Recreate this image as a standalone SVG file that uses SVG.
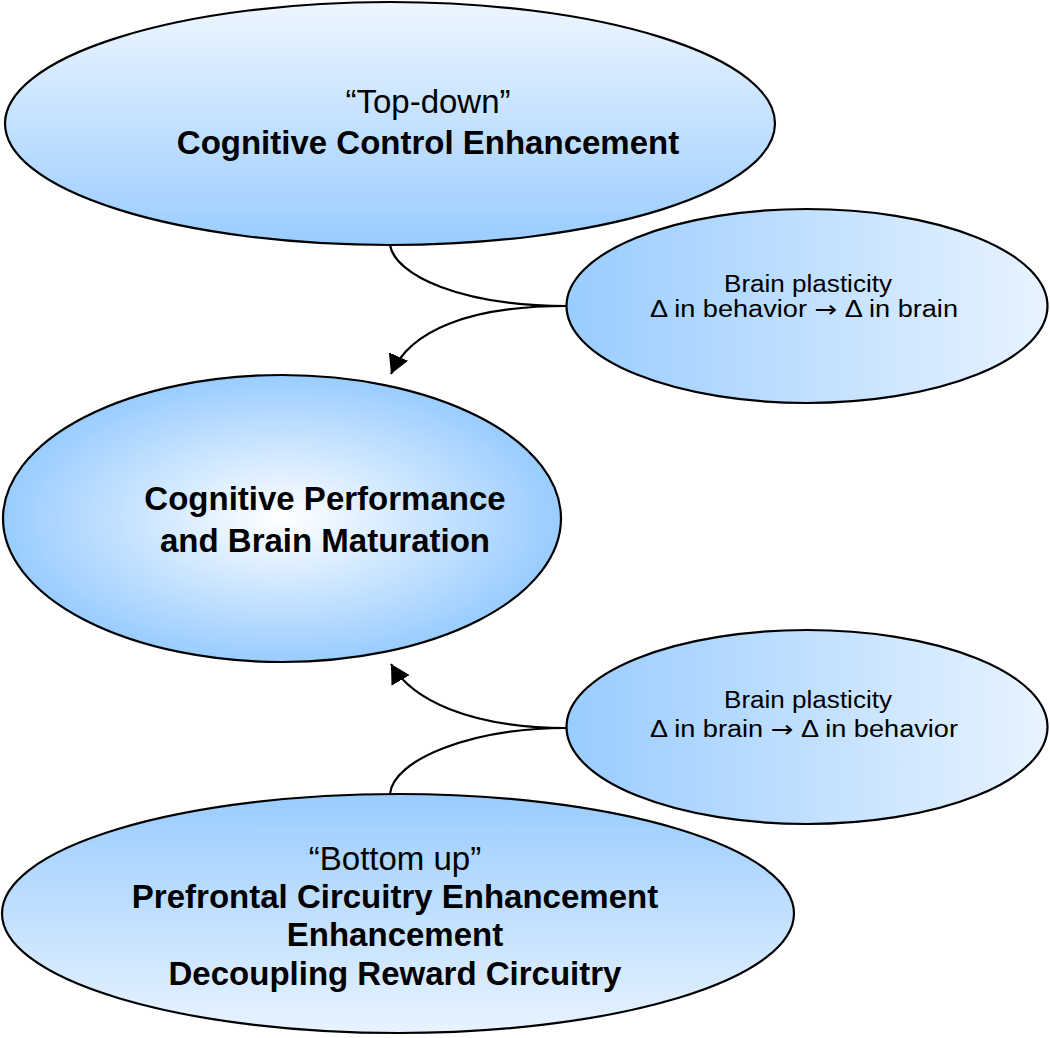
<svg xmlns="http://www.w3.org/2000/svg" width="1050" height="1038" viewBox="0 0 1050 1038">
<defs>
<linearGradient id="gTop" x1="0" y1="0" x2="0" y2="1"><stop offset="0" stop-color="#eef6ff"/><stop offset="1" stop-color="#99ccff"/></linearGradient>
<linearGradient id="gBot" x1="0" y1="0" x2="0" y2="1"><stop offset="0" stop-color="#99ccff"/><stop offset="1" stop-color="#e8f3ff"/></linearGradient>
<linearGradient id="gSide" x1="0" y1="0" x2="1" y2="0"><stop offset="0" stop-color="#99ccff"/><stop offset="1" stop-color="#e8f3ff"/></linearGradient>
<radialGradient id="gMid" cx="0.5" cy="0.5" r="0.5"><stop offset="0" stop-color="#ffffff"/><stop offset="1" stop-color="#99ccff"/></radialGradient>
<marker id="arrow" viewBox="0 0 19 21" refX="19" refY="10.5" markerWidth="19" markerHeight="21" markerUnits="userSpaceOnUse" orient="auto"><path d="M0,0 L19,10.5 L0,21 z" fill="#000"/></marker>
</defs>
<style>
ellipse{stroke:#000;stroke-width:2.2}
text{font-family:"Liberation Sans",Arial,sans-serif;fill:#000;text-anchor:middle}
.big{font-size:33px}
.b{font-weight:bold}
.sm{font-size:23px}
.ar{font-family:"DejaVu Sans",sans-serif}
.conn{fill:none;stroke:#000;stroke-width:2.2}
</style>
<g id="connectors">
<path class="conn" d="M390,245 C395,275 460,306 567,306"/>
<path class="conn" d="M567,306 C470,306 410,330 391,374" marker-end="url(#arrow)"/>
<path class="conn" d="M390,794 C393,760 470,728 567,728"/>
<path class="conn" d="M567,728 C470,728 412,700 391,664" marker-end="url(#arrow)"/>
</g>
<g id="node-top">
<ellipse cx="390" cy="123.5" rx="385" ry="121.5" fill="url(#gTop)"/>
<text class="big" x="428" y="113">“Top-down”</text>
<text class="big b" x="428" y="154">Cognitive Control Enhancement</text>
</g>
<g id="node-plasticity-top">
<ellipse cx="807" cy="306" rx="240.5" ry="97" fill="url(#gSide)"/>
<text class="sm" x="808" y="292" textLength="168" lengthAdjust="spacingAndGlyphs">Brain plasticity</text>
<text class="sm" x="804" y="317" textLength="308" lengthAdjust="spacingAndGlyphs">Δ in behavior <tspan class="ar">→</tspan> Δ in brain</text>
</g>
<g id="node-middle">
<ellipse cx="282" cy="518.5" rx="279" ry="143.5" fill="url(#gMid)"/>
<text class="big b" x="325" y="510">Cognitive Performance</text>
<text class="big b" x="325" y="552">and Brain Maturation</text>
</g>
<g id="node-plasticity-bottom">
<ellipse cx="807" cy="727" rx="240.5" ry="97" fill="url(#gSide)"/>
<text class="sm" x="808" y="708" textLength="168" lengthAdjust="spacingAndGlyphs">Brain plasticity</text>
<text class="sm" x="804" y="737" textLength="308" lengthAdjust="spacingAndGlyphs">Δ in brain <tspan class="ar">→</tspan> Δ in behavior</text>
</g>
<g id="node-bottom">
<ellipse cx="398" cy="913.5" rx="396" ry="119.5" fill="url(#gBot)"/>
<text class="big" x="395" y="870">“Bottom up”</text>
<text class="big b" x="395" y="908">Prefrontal Circuitry Enhancement</text>
<text class="big b" x="395" y="946">Enhancement</text>
<text class="big b" x="395" y="985">Decoupling Reward Circuitry</text>
</g>
</svg>
